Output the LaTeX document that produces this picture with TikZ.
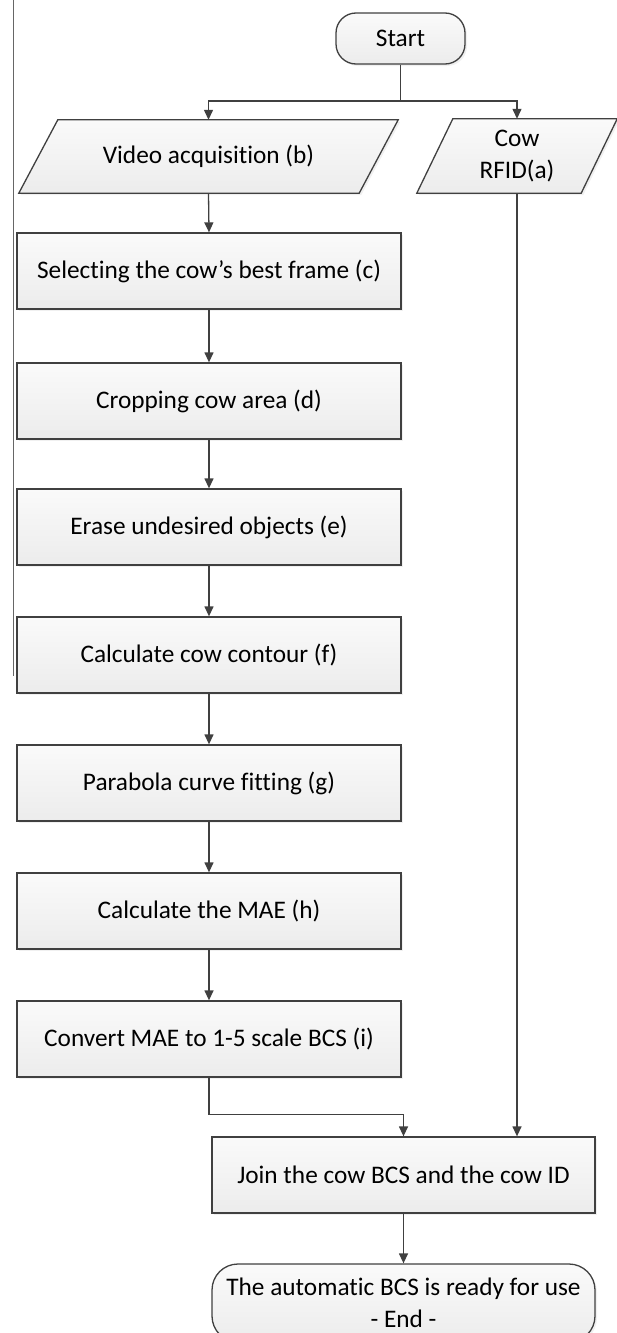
\documentclass[tikz,border=0pt]{standalone}
\usepackage{fontspec}
\setmainfont{Carlito}[Ligatures=NoCommon]
\usetikzlibrary{arrows.meta,shadows,calc}
\definecolor{ln}{RGB}{64,64,64}
\definecolor{ftop}{RGB}{250,250,250}
\definecolor{fbot}{RGB}{236,236,236}
\tikzset{
  base/.style={draw=ln, line width=1.3pt, top color=ftop, bottom color=fbot,
    drop shadow={opacity=0.12, shadow xshift=2pt, shadow yshift=-2pt}},
  lbl/.style={font=\fontsize{25.3}{31.5}\selectfont, align=center, inner sep=0pt},
  procbox/.style={base, lbl, rectangle, minimum width=384pt, minimum height=76pt},
  termbox/.style={base, lbl, rectangle, rounded corners=22pt},
  ghost/.style={lbl, rectangle, draw=none},
  conn/.style={draw=ln, line width=1.3pt},
  arr/.style={conn, -{Triangle[length=10pt,width=9pt]}}
}
\begin{document}
\begin{tikzpicture}[x=1pt,y=1pt]
\useasboundingbox (0,0) rectangle (617,-1333);
\clip (0,0) rectangle (617,-1333);
% left border artefact
\draw[draw=ln!80, line width=1pt] (13,0) -- (13,-676);

% start
\node[termbox, rounded corners=20pt, minimum width=129pt, minimum height=51pt] (start) at (400.5,-38.5) {Start};

% parallelograms
\node[ghost, minimum width=379pt, minimum height=73pt] (b) at (208.5,-156.5) {Video acquisition (b)};
\path[base] (b.south west) -- ($(b.north west)+(39,0)$) -- (b.north east) -- ($(b.south east)+(-39,0)$) -- cycle;
\node[ghost, minimum width=379pt, minimum height=73pt] at (b) {Video acquisition (b)};

\node[ghost, minimum width=200pt, minimum height=74pt] (a) at (517,-156) {Cow\\RFID(a)};
\path[base] (a.south west) -- ($(a.north west)+(36,0)$) -- (a.north east) -- ($(a.south east)+(-36,0)$) -- cycle;
\node[ghost, minimum width=200pt, minimum height=74pt] at (a) {Cow\\RFID(a)};

% process boxes
\node[procbox] (c) at (209,-271) {Selecting the cow’s best frame (c)};
\node[procbox] (d) at (209,-401) {Cropping cow area (d)};
\node[procbox] (e) at (209,-527) {Erase undesired objects (e)};
\node[procbox] (f) at (209,-655) {Calculate cow contour (f)};
\node[procbox] (g) at (209,-783) {Parabola curve fitting (g)};
\node[procbox] (h) at (209,-911) {Calculate the MAE (h)};
\node[procbox] (i) at (209,-1039) {Convert MAE to 1-5 scale BCS (i)};

\node[procbox, minimum width=383pt] (join) at (403.5,-1175) {Join the cow BCS and the cow ID};
\node[termbox, rounded corners=26pt, minimum width=383pt, minimum height=78pt] (end) at (403.5,-1303) {The automatic BCS is ready for use\\- End -};

% connectors
\coordinate (split) at (400.5,-101);
\draw[conn] (start.south) -- (split);
\draw[arr] (split) -| (b.north);
\draw[arr] (split) -| (a.north);
\draw[arr] (b.south) -- (c.north);
\draw[arr] (c) -- (d);
\draw[arr] (d) -- (e);
\draw[arr] (e) -- (f);
\draw[arr] (f) -- (g);
\draw[arr] (g) -- (h);
\draw[arr] (h) -- (i);
\draw[arr] (i.south) -- ++(0,-37) -| (join.north);
\draw[arr] (a.south) -- (a.south |- join.north);
\draw[arr] (join) -- (end);
\end{tikzpicture}
\end{document}
